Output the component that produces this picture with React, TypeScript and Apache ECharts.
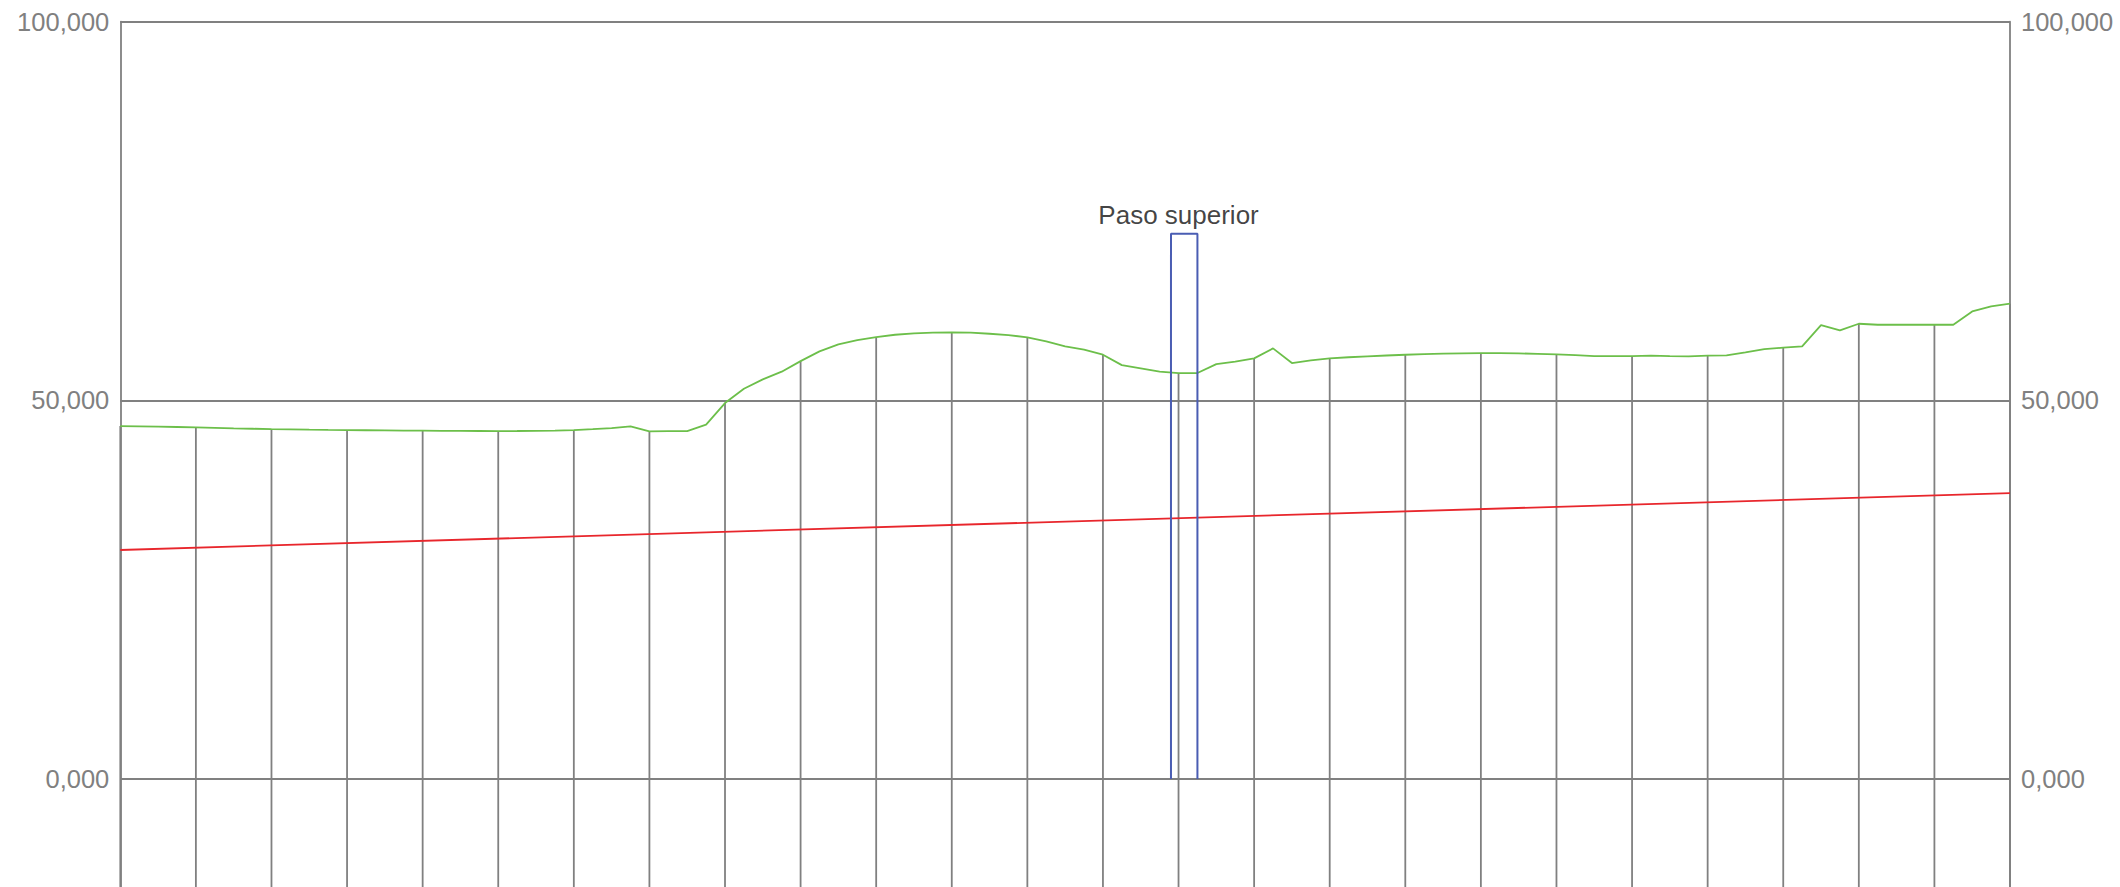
import React, { useEffect, useRef } from "react";
import * as echarts from "echarts";

// Terrain profile: one elevation every 5 m, from chainage 0 to 500
const terrainStep = 5;
const terrainElevations = [
  46.61, 46.58, 46.54, 46.49, 46.43,
  46.37, 46.31, 46.26, 46.21,
  46.17, 46.13, 46.1, 46.08,
  46.06, 46.04, 46.02, 46.0,
  45.98, 45.97, 45.96, 45.95,
  45.96, 45.98, 46.02, 46.08,
  46.2, 46.35, 46.57, 45.91,
  45.94, 45.95, 46.8, 49.65,
  51.54, 52.77, 53.79, 55.19,
  56.47, 57.39, 57.96, 58.36,
  58.67, 58.85, 58.94, 58.98,
  58.94, 58.8, 58.62, 58.32,
  57.79, 57.13, 56.69, 56.03,
  54.66, 54.22, 53.79, 53.61,
  53.61, 54.79, 55.11, 55.55,
  56.87, 54.93, 55.28, 55.55,
  55.7, 55.82, 55.93, 56.03,
  56.1, 56.17, 56.22, 56.25,
  56.24, 56.21, 56.15, 56.07,
  55.98, 55.85, 55.85, 55.85,
  55.9, 55.85, 55.81, 55.9,
  55.94, 56.34, 56.77, 56.96,
  57.13, 59.94, 59.24, 60.12,
  59.99, 59.99, 59.99, 59.99,
  59.99, 61.75, 62.41, 62.77,
];

// Stations (vertical lines) every 20 m
const stationChainages = [
  0, 20, 40, 60, 80, 100, 120, 140, 160, 180, 200, 220, 240,
  260, 280, 300, 320, 340, 360, 380, 400, 420, 440, 460, 480, 500,
];

// Grade line (red)
const gradeChainages = [0, 500];
const gradeElevations = [30.25, 37.75];

// Overpass (blue)
const bridgeChainages = [278, 278, 285, 285];
const bridgeElevations = [0, 72, 72, 0];
const bridgeLabel = "Paso superior";
const bridgeLabelChainage = 280;

// Axis
const yMin = -50;
const yMax = 100;
const yInterval = 50;
const xMin = 0;
const xMax = 500;

const GRAY = "#808080";
const FONT = "'Liberation Sans', Arial, Helvetica, sans-serif";

export default function App() {
  const ref = useRef<HTMLDivElement>(null);

  useEffect(() => {
    if (!ref.current) return;
    const chart = echarts.init(ref.current, undefined, { renderer: "svg" });

    const terrainData = terrainElevations.map((v, i) => [i * terrainStep, v]);
    const stationData = stationChainages.map((c) => {
      const idx = Math.round(c / terrainStep);
      return [c, terrainElevations[idx]];
    });
    const gradeData = gradeChainages.map((c, i) => [c, gradeElevations[i]]);
    const bridgeData = bridgeChainages.map((c, i) => [c, bridgeElevations[i]]);

    const yLabelFormatter = (v: number) =>
      v < 0 ? "" : v.toFixed(3).replace(".", ",");

    const yAxisBase = {
      type: "value" as const,
      min: yMin,
      max: yMax,
      interval: yInterval,
      axisLine: { show: true, lineStyle: { color: GRAY, width: 1.8 } },
      axisTick: { show: false },
      axisLabel: {
        formatter: yLabelFormatter,
        color: "#808080",
        fontSize: 25.5,
        fontFamily: FONT,
        margin: 11,
      },
    };

    chart.setOption({
      animation: false,
      grid: {
        left: 120.3,
        top: 21.7,
        width: 1889.7,
        height: 1136.1,
        containLabel: false,
        outerBoundsMode: "none",
      },
      xAxis: {
        type: "value",
        min: xMin,
        max: xMax,
        show: false,
        splitLine: { show: false },
      },
      yAxis: [
        {
          ...yAxisBase,
          position: "left",
          splitLine: { show: true, lineStyle: { color: GRAY, width: 1.8 } },
        },
        {
          ...yAxisBase,
          position: "right",
          splitLine: { show: false },
        },
      ],
      series: [
        {
          type: "custom",
          name: "Estaciones",
          data: stationData,
          z: 1,
          renderItem: (params: any, api: any) => {
            const x = api.value(0);
            const top = api.value(1);
            const p1 = api.coord([x, top]);
            const p2 = api.coord([x, yMin]);
            return {
              type: "line",
              shape: { x1: p1[0], y1: p1[1], x2: p2[0], y2: p2[1] },
              style: { stroke: GRAY, lineWidth: 1.8 },
            };
          },
        },
        {
          type: "line",
          name: "Rasante",
          data: gradeData,
          symbol: "none",
          z: 3,
          lineStyle: { color: "#e8262c", width: 1.8 },
        },
        {
          type: "line",
          name: "Terreno",
          data: terrainData,
          symbol: "none",
          z: 4,
          lineStyle: { color: "#6cbf4a", width: 1.8 },
        },
        {
          type: "line",
          name: "Paso superior",
          data: bridgeData,
          symbol: "none",
          z: 5,
          lineStyle: { color: "#4a5db3", width: 2 },
        },
        {
          type: "scatter",
          name: "Etiqueta",
          data: [[bridgeLabelChainage, bridgeElevations[1]]],
          symbolSize: 1,
          itemStyle: { color: "transparent" },
          z: 6,
          label: {
            show: true,
            position: "top",
            distance: 5,
            formatter: bridgeLabel,
            color: "#111111",
            fontSize: 26,
            fontFamily: FONT,
          },
        },
      ],
    });

    return () => chart.dispose();
  }, []);

  return (
    <div
      ref={ref}
      style={{
        position: "fixed",
        left: 0,
        top: 0,
        width: 2120,
        height: 887,
        background: "#ffffff",
      }}
    />
  );
}
